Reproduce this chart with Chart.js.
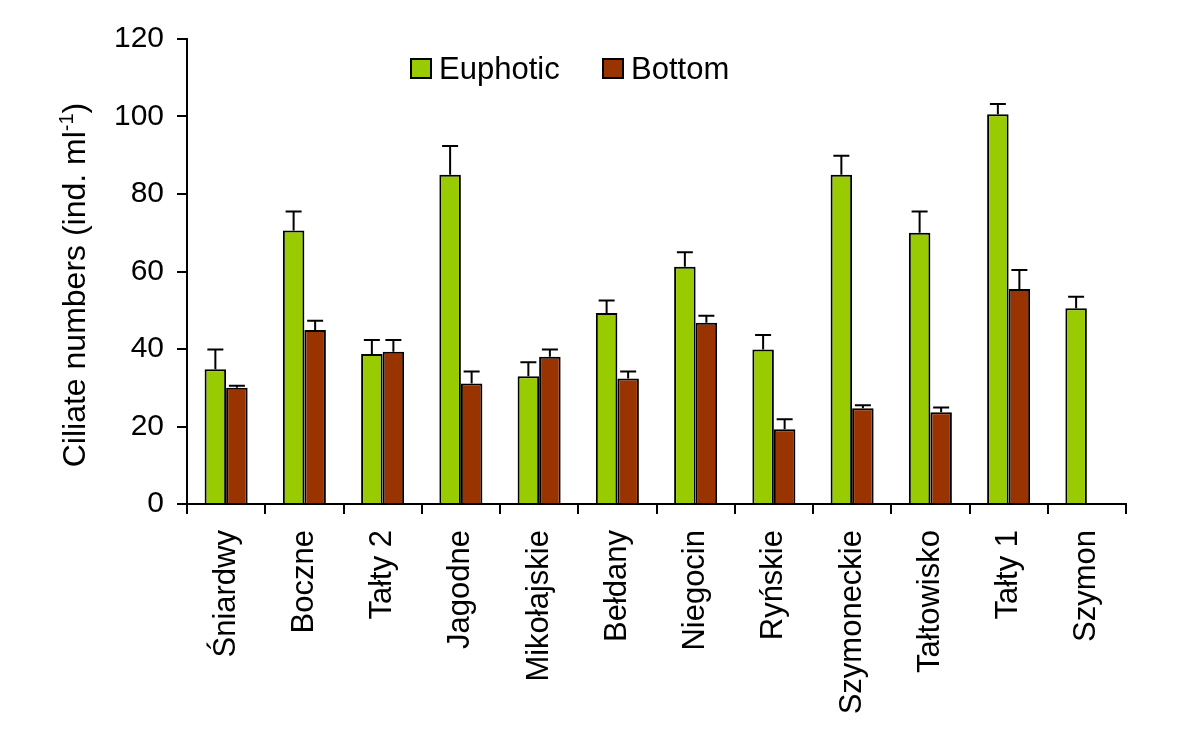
<!DOCTYPE html>
<html>
<head>
<meta charset="utf-8">
<script src="https://cdn.jsdelivr.net/npm/chart.js@4.4.1/dist/chart.umd.min.js"></script>
<style>
  html, body { margin: 0; padding: 0; background: #ffffff; }
  #wrap { width: 1200px; height: 741px; position: relative; }
</style>
</head>
<body>
<div id="wrap"><canvas id="c" width="1200" height="741"></canvas></div>
<script>
const categories = ['Śniardwy', 'Boczne', 'Tałty 2', 'Jagodne', 'Mikołajskie', 'Bełdany', 'Niegocin', 'Ryńskie', 'Szymoneckie', 'Tałtowisko', 'Tałty 1', 'Szymon'];
const euphotic = [34.8, 70.6, 38.7, 85.0, 33.0, 49.3, 61.2, 39.9, 85.0, 70.0, 100.6, 50.5];
const euphoticErr = [5.1, 4.9, 3.6, 7.4, 3.6, 3.2, 3.8, 3.7, 4.9, 5.5, 2.6, 3.0];
const bottom = [30.0, 44.9, 39.3, 31.1, 38.0, 32.4, 46.8, 19.3, 24.7, 23.7, 55.5, null];
const bottomErr = [0.5, 2.4, 3.0, 3.1, 1.9, 1.8, 1.8, 2.6, 0.8, 1.2, 4.9, null];
const yTicks = [0, 20, 40, 60, 80, 100, 120];
const seriesNames = ['Euphotic', 'Bottom'];
const yTitle = 'Ciliate numbers (ind. ml';
const yTitleSup = '-1';

const FONT = "'Liberation Sans', Arial, Helvetica, sans-serif";

const errorBarPlugin = {
  id: 'errorBars',
  afterDatasetsDraw(chart) {
    const ctx = chart.ctx;
    const y = chart.scales.y;
    chart.data.datasets.forEach((ds, di) => {
      const meta = chart.getDatasetMeta(di);
      meta.data.forEach((bar, i) => {
        const v = ds.data[i];
        const e = ds.errors[i];
        if (v == null || e == null) return;
        const x = bar.x;
        const y0 = y.getPixelForValue(v);
        const y1 = y.getPixelForValue(v + e);
        ctx.save();
        ctx.strokeStyle = '#000';
        ctx.lineWidth = 2;
        ctx.beginPath();
        ctx.moveTo(x, y0);
        ctx.lineTo(x, y1);
        ctx.moveTo(x - 8, y1);
        ctx.lineTo(x + 8, y1);
        ctx.stroke();
        ctx.restore();
      });
    });
  }
};

const legendAndTitlePlugin = {
  id: 'legendAndTitle',
  afterDraw(chart) {
    const ctx = chart.ctx;
    // legend
    const boxes = [{x: 411, tx: 439}, {x: 603, tx: 631}];
    chart.data.datasets.forEach((ds, di) => {
      const b = boxes[di];
      ctx.save();
      ctx.fillStyle = ds.backgroundColor;
      ctx.fillRect(b.x, 59, 20, 19);
      ctx.strokeStyle = '#000';
      ctx.lineWidth = 2;
      ctx.strokeRect(b.x, 59, 20, 19);
      ctx.fillStyle = '#000';
      ctx.font = '31px ' + FONT;
      ctx.textBaseline = 'alphabetic';
      ctx.textAlign = 'left';
      ctx.fillText(ds.label, b.tx, 79);
      ctx.restore();
    });
    // y-axis title with superscript
    ctx.save();
    ctx.translate(85, 285);
    ctx.rotate(-Math.PI / 2);
    ctx.fillStyle = '#000';
    ctx.textBaseline = 'alphabetic';
    ctx.textAlign = 'left';
    const mainFont = '32px ' + FONT;
    const supFont = '20px ' + FONT;
    ctx.font = mainFont;
    const w1 = ctx.measureText(yTitle).width;
    const w3 = ctx.measureText(')').width;
    ctx.font = supFont;
    const w2 = ctx.measureText(yTitleSup).width;
    const total = w1 + w2 + w3;
    let x = -total / 2;
    ctx.font = mainFont;
    ctx.fillText(yTitle, x, 0);
    x += w1;
    ctx.font = supFont;
    ctx.fillText(yTitleSup, x, -12);
    x += w2;
    ctx.font = mainFont;
    ctx.fillText(')', x, 0);
    ctx.restore();
  }
};

new Chart(document.getElementById('c'), {
  type: 'bar',
  data: {
    labels: categories,
    datasets: [
      { label: seriesNames[0], data: euphotic, errors: euphoticErr, backgroundColor: '#99CC00', borderColor: '#000000', borderWidth: 2 },
      { label: seriesNames[1], data: bottom, errors: bottomErr, backgroundColor: '#993300', borderColor: '#000000', borderWidth: 2 }
    ]
  },
  options: {
    responsive: false,
    animation: false,
    devicePixelRatio: 1,
    layout: { padding: { left: 0, right: 74, top: 39, bottom: 0 } },
    datasets: { bar: { categoryPercentage: 0.55, barPercentage: 1.0 } },
    plugins: { legend: { display: false }, tooltip: { enabled: false }, title: { display: false } },
    scales: {
      x: {
        afterFit(scale) { scale.height = 237; },
        grid: { display: true, drawOnChartArea: false, drawTicks: true, tickLength: 10, color: '#000', lineWidth: 2, offset: true },
        border: { display: true, color: '#000', width: 2 },
        ticks: {
          autoSkip: false, minRotation: 90, maxRotation: 90, padding: 16,
          color: '#000', font: { family: FONT, size: 31 }
        }
      },
      y: {
        min: 0, max: 120,
        afterFit(scale) { scale.width = 187; },
        afterBuildTicks(scale) { scale.ticks = yTicks.map(v => ({ value: v })); },
        grid: { display: true, drawOnChartArea: false, drawTicks: true, tickLength: 10, color: '#000', lineWidth: 2 },
        border: { display: true, color: '#000', width: 2 },
        ticks: { padding: 13, color: '#000', font: { family: FONT, size: 30 } }
      }
    }
  },
  plugins: [errorBarPlugin, legendAndTitlePlugin]
});
</script>
</body>
</html>
